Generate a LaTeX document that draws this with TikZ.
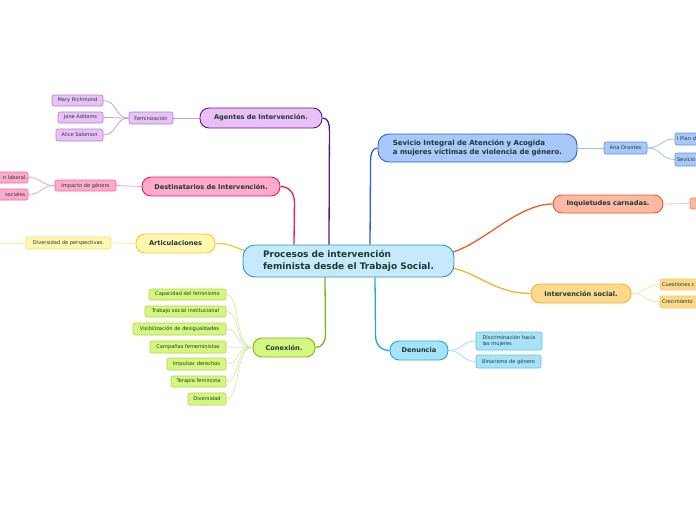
\documentclass[tikz,border=0pt]{standalone}
\usepackage{fontspec}
\setmainfont{DejaVu Sans}
\usetikzlibrary{backgrounds,calc}
\definecolor{txt}{HTML}{1A3A33}
\definecolor{cfill}{HTML}{C6EAFB}\definecolor{cline}{HTML}{2A93C8}
\definecolor{pufill}{HTML}{E9C0F7}\definecolor{puline}{HTML}{5C1C6E}\definecolor{pusub}{HTML}{B080CC}\definecolor{pucon}{HTML}{C8A0D8}
\definecolor{pkfill}{HTML}{FFAACC}\definecolor{pkline}{HTML}{E8186C}\definecolor{pksub}{HTML}{F06AA0}\definecolor{pkcon}{HTML}{F8A0C0}
\definecolor{yefill}{HTML}{FFF6B0}\definecolor{yeline}{HTML}{E8D030}\definecolor{yesub}{HTML}{F0E070}\definecolor{yecon}{HTML}{F8EEA0}
\definecolor{grfill}{HTML}{D6F77F}\definecolor{grline}{HTML}{7AB51D}\definecolor{grsub}{HTML}{A8D848}\definecolor{grcon}{HTML}{D0E8A0}
\definecolor{blfill}{HTML}{A8C8FA}\definecolor{blline}{HTML}{2860D8}\definecolor{blsub}{HTML}{6090E0}\definecolor{blcon}{HTML}{A0C0F0}
\definecolor{orfill}{HTML}{FBB8A2}\definecolor{orline}{HTML}{F05A28}\definecolor{orsub}{HTML}{F08060}\definecolor{orcon}{HTML}{FBC0B0}
\definecolor{gofill}{HTML}{FDD98E}\definecolor{goline}{HTML}{F5B428}\definecolor{gosub}{HTML}{F8C860}\definecolor{gocon}{HTML}{FDE0A0}
\definecolor{cyfill}{HTML}{A8E2F8}\definecolor{cyline}{HTML}{20A8E4}\definecolor{cysub}{HTML}{60C0F0}\definecolor{cycon}{HTML}{A8DCF4}
\tikzset{
  mainbox/.style={draw, line width=0.9pt, rounded corners=9pt, inner sep=0pt, text=txt,
     font=\fontsize{6.6}{7.6}\selectfont\bfseries},
  subbox/.style={draw, line width=0.6pt, rounded corners=2pt, inner sep=0pt, text=txt,
     font=\fontsize{5.1}{6}\selectfont},
  branch/.style={line width=1.3pt},
  twig/.style={line width=0.8pt},
}
\begin{document}
\begin{tikzpicture}[x=1pt,y=-1pt]
\useasboundingbox (0,0) rectangle (696,520);
\clip (0,0) rectangle (696,520);
% center
\node[mainbox, fill=cfill, draw=cline, minimum width=211pt, minimum height=32pt, rounded corners=12pt,
  align=left, font=\fontsize{9}{11.5}\selectfont\bfseries] (ctr) at (348.5,261)
  {Procesos de intervención\\feminista desde el Trabajo Social.};
% purple
\node[mainbox, fill=pufill, draw=puline, minimum width=122pt, minimum height=20pt] (ag) at (261,118) {Agentes de Intervención.};
\node[subbox, fill=pufill, draw=pusub, minimum width=44pt, minimum height=12pt] (fem) at (151,118) {Feminización};
\node[subbox, fill=pufill, draw=pusub, minimum width=51pt, minimum height=11pt] (mary) at (77.5,100.5) {Mary Richmond};
\node[subbox, fill=pufill, draw=pusub, minimum width=45pt, minimum height=11pt] (jane) at (80.5,117.5) {Jane Addams};
\node[subbox, fill=pufill, draw=pusub, minimum width=47pt, minimum height=12pt] (alice) at (79.5,135) {Alice Salomon};
% pink
\node[mainbox, fill=pkfill, draw=pkline, minimum width=138pt, minimum height=19pt] (dest) at (211,186.5) {Destinatarios de Intervención.};
\node[subbox, fill=pkfill, draw=pksub, minimum width=61pt, minimum height=11pt] (imp) at (85.5,185.5) {Impacto de género};
\node[subbox, fill=pkfill, draw=pksub, minimum height=11pt, text width=57pt, align=right] (lab) at (-0.5,177.5) {n laboral.\hspace*{1pt}};
\node[subbox, fill=pkfill, draw=pksub, minimum height=11pt, text width=57pt, align=right] (soc) at (-0.5,194.5) {sociales.\hspace*{1pt}};
% yellow
\node[mainbox, fill=yefill, draw=yeline, minimum width=79pt, minimum height=19pt] (art) at (175.5,243.5) {Articulaciones};
\node[subbox, fill=yefill, draw=yesub, minimum width=85pt, minimum height=12pt] (div) at (68.5,243) {Diversidad de perspectivas.};
\coordinate (divc) at (-5,243);
% green
\node[mainbox, fill=grfill, draw=grline, minimum width=62pt, minimum height=19pt] (con) at (284,347.5) {Conexión.};
\node[subbox, fill=grfill, draw=grsub, minimum width=77pt, minimum height=11pt] (cap) at (187.5,294.5) {Capacidad del feminismo};
\node[subbox, fill=grfill, draw=grsub, minimum width=81pt, minimum height=11pt] (tsi) at (185.5,311.5) {Trabajo social institucional};
\node[subbox, fill=grfill, draw=grsub, minimum width=93pt, minimum height=12pt] (vis) at (179.5,329) {Visibilización de desigualdades};
\node[subbox, fill=grfill, draw=grsub, minimum width=76pt, minimum height=12pt] (camp) at (188,347) {Campañas femeministas};
\node[subbox, fill=grfill, draw=grsub, minimum width=59pt, minimum height=12pt] (impd) at (196.5,364) {Impulsar derechos};
\node[subbox, fill=grfill, draw=grsub, minimum width=55pt, minimum height=11pt] (ter) at (198.5,381.5) {Terapia feminista};
\node[subbox, fill=grfill, draw=grsub, minimum width=38pt, minimum height=12pt] (dive) at (207,399) {Diversidad};
% blue
\node[mainbox, fill=blfill, draw=blline, minimum width=199pt, minimum height=28pt, rounded corners=11pt, align=left,
  font=\fontsize{7}{8.5}\selectfont\bfseries] (sev) at (477.5,148)
  {Sevicio Integral de Atención y Acogida\\a mujeres víctimas de violencia de género.};
\node[subbox, fill=blfill, draw=blsub, minimum width=43pt, minimum height=12pt] (ana) at (625.5,148) {Ana Orantes};
\node[subbox, fill=blfill, draw=blsub, minimum height=12pt, text width=53pt, align=left] (plan) at (701.5,139) {\hspace*{2pt}I Plan d};
\node[subbox, fill=blfill, draw=blsub, minimum height=13pt, text width=53pt, align=left] (sv2) at (701.5,159.5) {\hspace*{2pt}Sevicio};
% orange
\node[mainbox, fill=orfill, draw=orline, minimum width=110pt, minimum height=18pt] (inq) at (608,204) {Inquietudes carnadas.};
\node[subbox, fill=orfill, draw=orsub, minimum width=50pt, minimum height=11pt] (inqc) at (715,203.5) {};
% gold
\node[mainbox, fill=gofill, draw=goline, minimum width=100pt, minimum height=19pt] (ints) at (581,293.5) {Intervención social.};
\node[subbox, fill=gofill, draw=gosub, minimum height=11pt, text width=56pt, align=left] (cue) at (688,284.5) {\hspace*{2pt}Cuestiones c};
\node[subbox, fill=gofill, draw=gosub, minimum height=12pt, text width=56pt, align=left] (cre) at (688,302) {\hspace*{2pt}Crecimiento};
% cyan
\node[mainbox, fill=cyfill, draw=cyline, minimum width=58pt, minimum height=19pt] (den) at (419,350.5) {Denuncia};
\node[subbox, fill=cyfill, draw=cysub, minimum width=66pt, minimum height=18pt, align=left] (dis) at (509,341) {Discriminación hacia\\las mujeres};
\node[subbox, fill=cyfill, draw=cysub, minimum width=65pt, minimum height=13pt] (bin) at (508.5,361.5) {Binarismo de género};

\begin{scope}[on background layer]
% main branches
\draw[branch, puline] (ag.east) .. controls +(6,0) and +(0,-7) .. ++(7,13) -- ([xshift=-19.5pt]ctr.north);
\draw[branch, pkline] (dest.east) .. controls +(9,0) and +(0,-9) .. ++(14,16) -- ([xshift=-54.5pt]ctr.north);
\draw[branch, yeline] (art.east) .. controls +(15,0) and +(-12,-4) .. ([xshift=3pt,yshift=10pt]ctr.west);
\draw[branch, grline] (con.east) .. controls +(6,0) and +(0,8) .. ++(10,-13) -- ([xshift=-23.5pt]ctr.south);
\draw[branch, blline] (sev.west) .. controls +(-6,0) and +(0,-8) .. ++(-7,15) -- ([xshift=21.5pt]ctr.north);
\draw[branch, cyline] (den.west) .. controls +(-9,0) and +(0,9) .. ++(-14,-15) -- ([xshift=26.5pt]ctr.south);
\draw[branch, orline] ([xshift=-2pt,yshift=9pt]ctr.east) .. controls +(30,-8) and +(-35,0) .. (inq.west);
\draw[branch, goline] ([xshift=-2pt,yshift=-7pt]ctr.east) .. controls +(25,5) and +(-35,0) .. (ints.west);
% twigs
\draw[twig, pucon] (ag.west) -- (fem.east);
\foreach \c in {mary,jane,alice} \draw[twig, pucon] (fem.west) .. controls +(-14,0) and +(14,0) .. (\c.east);
\draw[twig, pkcon] (dest.west) -- (imp.east);
\foreach \c in {lab,soc} \draw[twig, pkcon] (imp.west) .. controls +(-14,0) and +(14,0) .. (\c.east);
\draw[twig, yecon] (art.west) -- (div.east);
\draw[twig, yecon] (div.west) -- (divc);
\foreach \c in {cap,tsi,vis,camp,impd,ter,dive} \draw[twig, grcon, line width=0.6pt] (con.west) .. controls +(-18,0) and +(14,0) .. (\c.east);
\draw[twig, blcon] (sev.east) -- (ana.west);
\foreach \c in {plan,sv2} \draw[twig, blcon] (ana.east) .. controls +(14,0) and +(-14,0) .. (\c.west);
\draw[twig, orcon] (inq.east) -- (inqc.west);
\foreach \c in {cue,cre} \draw[twig, gocon] (ints.east) .. controls +(14,0) and +(-14,0) .. (\c.west);
\foreach \c in {dis,bin} \draw[twig, cycon] (den.east) .. controls +(14,0) and +(-14,0) .. (\c.west);
\end{scope}
\end{tikzpicture}
\end{document}
